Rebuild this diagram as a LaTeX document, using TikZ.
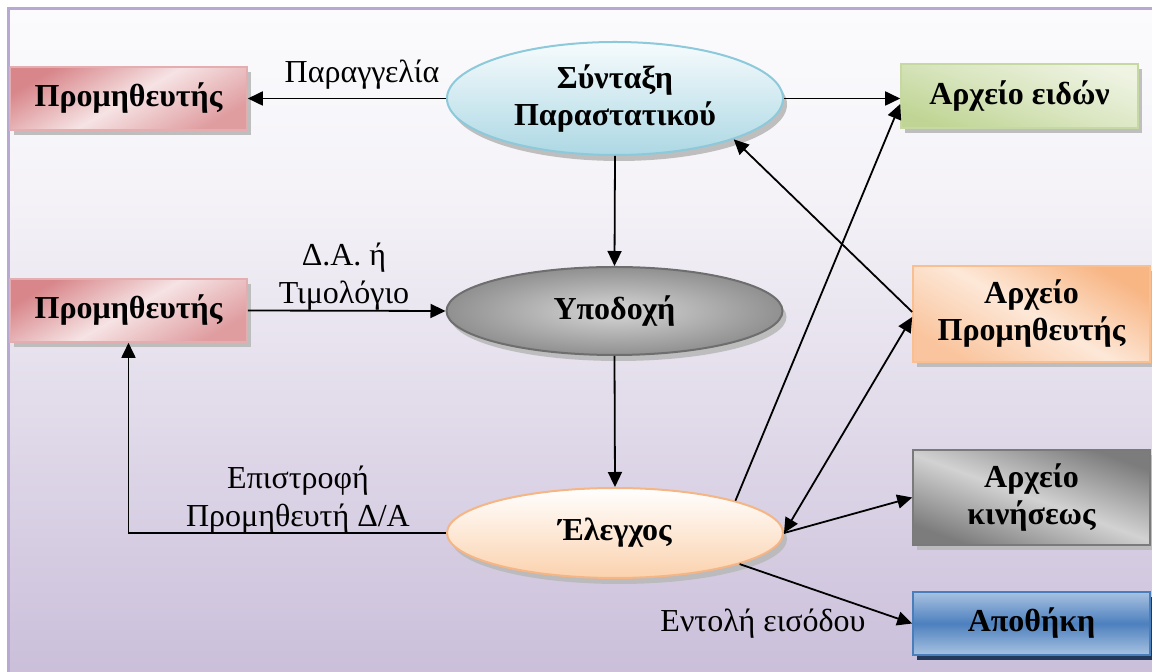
\documentclass[tikz,border=0pt]{standalone}
\usepackage{fontspec}
\setmainfont{Liberation Serif}
\usetikzlibrary{shapes.geometric,shadows,arrows.meta,calc}

% page and frame
\definecolor{bgtop}{HTML}{FBFBFD}
\definecolor{bgmid}{HTML}{F4F2F7}
\definecolor{bgbot}{HTML}{C9BDD9}
\definecolor{framecol}{HTML}{B7A9D2}
% box colours
\definecolor{pinkD}{HTML}{D8868A}
\definecolor{pinkL}{HTML}{F6E3E4}
\definecolor{pinkB}{HTML}{E4AEB0}
\definecolor{greenD}{HTML}{C0D595}
\definecolor{greenL}{HTML}{EEF3E2}
\definecolor{greenB}{HTML}{C6D9A2}
\definecolor{orangeD}{HTML}{F8B685}
\definecolor{orangeL}{HTML}{FDE8D8}
\definecolor{orangeB}{HTML}{F9BF90}
\definecolor{grayD}{HTML}{7C7C7C}
\definecolor{grayL}{HTML}{D2D2D2}
\definecolor{grayB}{HTML}{7A7A7A}
\definecolor{blueD}{HTML}{4D80BE}
\definecolor{blueL}{HTML}{A8C2E1}
\definecolor{blueB}{HTML}{4A7EBB}
\definecolor{navy}{HTML}{22395C}
% ellipse colours
\definecolor{cyanT}{HTML}{F6FBFD}
\definecolor{cyanB}{HTML}{ADD8E4}
\definecolor{cyanE}{HTML}{8CC9DA}
\definecolor{ovgI}{HTML}{D6D6D6}
\definecolor{ovgO}{HTML}{909090}
\definecolor{ovgE}{HTML}{6E6E6E}
\definecolor{peachT}{HTML}{FFFFFF}
\definecolor{peachB}{HTML}{FBD2AE}
\definecolor{peachE}{HTML}{F5B585}

\begin{document}
\begin{tikzpicture}[x=0.5pt,y=-0.5pt,
  >={Triangle[length=7.5pt,width=7pt]},
  box/.style={rectangle, inner sep=0pt, minimum width=118.5pt, line width=0.8pt,
    font=\fontsize{16}{18.5}\selectfont\bfseries, align=center,
    drop shadow={shadow xshift=2pt, shadow yshift=-2.5pt, fill=gray!55, opacity=0.9}},
  oval/.style={ellipse, inner sep=0pt, minimum width=168pt, line width=1pt,
    font=\fontsize{16}{18.5}\selectfont\bfseries, align=center,
    drop shadow={shadow xshift=2pt, shadow yshift=-3pt, fill=gray!55, opacity=0.9}},
  lbl/.style={font=\fontsize{16}{19}\selectfont, align=center, inner sep=0pt},
  conn/.style={line width=0.9pt, ->},
]
\useasboundingbox (0,0) rectangle (1152,672);

% background panel with its frame
\begin{scope}
  \clip (0,0) rectangle (1152,672);
  \shade[top color=bgtop, bottom color=bgmid] (8,9) rectangle (1170,200);
  \shade[top color=bgmid, bottom color=bgbot] (8,200) rectangle (1170,690);
  \draw[framecol, line width=1.5pt] (8,690) -- (8,9) -- (1170,9);
\end{scope}

% process ellipses
\node[oval, minimum height=56.5pt, draw=cyanE, top color=cyanT, bottom color=cyanB]
  (syn) at (615,98.5) {Σύνταξη\\Παραστατικού};
\node[oval, minimum height=44pt, draw=ovgE, inner color=ovgI, outer color=ovgO]
  (ypo) at (614.5,311) {Υποδοχή};
\node[oval, minimum height=45pt, draw=peachE, top color=peachT, bottom color=peachB]
  (ele) at (615,533) {Έλεγχος};

% suppliers
\node[box, minimum height=31.5pt, draw=pinkB, top color=pinkD, bottom color=pinkD!75!pinkL,
  middle color=pinkL, shading angle=30] (prA) at (128.5,98.5) {Προμηθευτής};
\node[box, minimum height=31.5pt, draw=pinkB, top color=pinkD, bottom color=pinkD!75!pinkL,
  middle color=pinkL, shading angle=30] (prB) at (128.5,310.5) {Προμηθευτής};

% files and store
\node[box, minimum height=32pt, draw=greenB, top color=greenL, bottom color=greenD,
  middle color=greenD!45!greenL, shading angle=-20] (eid) at (1019.5,96) {Αρχείο ειδών};
\node[box, minimum height=48pt, draw=orangeB, top color=orangeD, bottom color=orangeD!70!orangeL,
  middle color=orangeL, shading angle=-30] (apr) at (1031.5,314) {Αρχείο\\Προμηθευτής};
\node[box, minimum height=47.5pt, draw=grayB, top color=grayD, bottom color=grayD,
  middle color=grayL, shading angle=-20] (kin) at (1031.5,497.5) {Αρχείο\\κινήσεως};
\node[box, minimum height=31.5pt, draw=blueB, top color=blueL, bottom color=blueL,
  middle color=blueD,
  drop shadow={shadow xshift=2pt, shadow yshift=-2.5pt, fill=navy, opacity=1}]
  (apo) at (1031.5,623.5) {Αποθήκη};

% connectors
\draw[conn] (syn.west) -- (prA.east);
\draw[conn] (syn.east) -- (syn.east -| eid.west);
\draw[conn] (syn.south) -- (ypo.north);
\draw[conn] (prB.east) -- (ypo.west);
\draw[conn] (ypo.south) -- (ele.north);
\draw[conn] (ele.west) -| (prB.south);
\draw[conn] (ele.15.6) -- ($(eid.west)+(0,8)$);
\draw[conn] ($(apr.west)+(0,-2)$) -- (syn.-19.6);
\draw[conn, <->] (ele.east) -- ($(apr.west)+(0,3)$);
\draw[conn] (ele.east) -- (kin.west);
\draw[conn] (ele.-14.3) -- (apo.west);

% connector labels
\node[lbl, anchor=base] (lorder) at (362,83) {Παραγγελία};
\node[lbl] (linv) at (344,277) {Δ.Α. ή\\Τιμολόγιο};
\node[lbl] (lret) at (298,500) {Επιστροφή\\Προμηθευτή Δ/Α};
\node[lbl, anchor=base] (lin) at (763,632) {Εντολή εισόδου};
\end{tikzpicture}
\end{document}
